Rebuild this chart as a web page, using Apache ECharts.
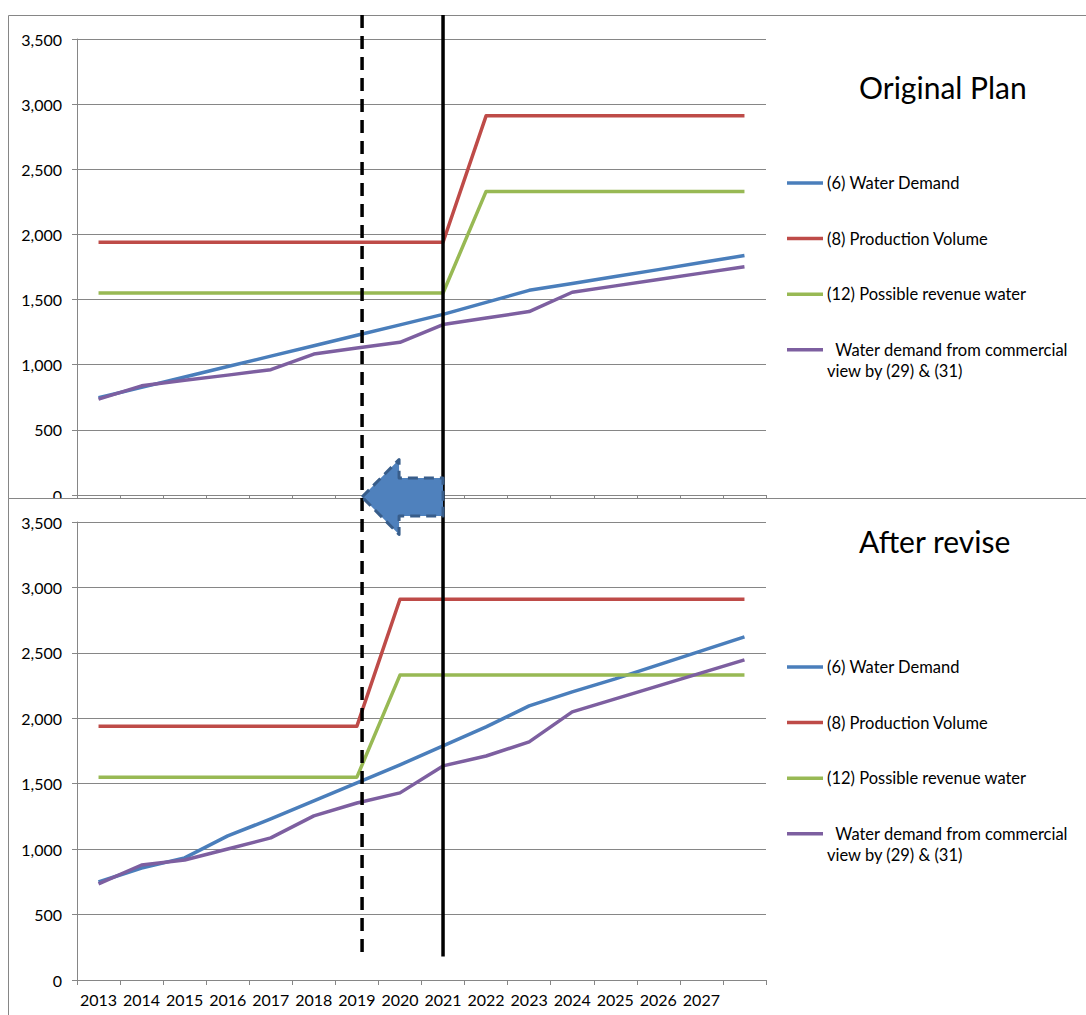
<!DOCTYPE html>
<html>
<head>
<meta charset="utf-8">
<script src="https://cdn.jsdelivr.net/npm/echarts@6/dist/echarts.min.js"></script>
<style>
  html, body { margin: 0; padding: 0; background: #ffffff; }
  #chart { width: 1086px; height: 1015px; }
</style>
</head>
<body>
<div id="chart"></div>
<script>
// Years on the category axis (the last year carries no printed label)
const years = ['2013', '2014', '2015', '2016', '2017', '2018', '2019', '2020',
               '2021', '2022', '2023', '2024', '2025', '2026', '2027', '2028'];
const yTicks = [0, 500, 1000, 1500, 2000, 2500, 3000, 3500];

const seriesNames = [
  '(6) Water Demand',
  '(8) Production Volume',
  '(12) Possible revenue water',
  '  Water demand from commercial\nview by (29) & (31)'
];
const panelTitles = ['Original Plan', 'After revise'];

// Original plan
const demandOrig     = [746, 826, 906, 986, 1066, 1146, 1226, 1306, 1386, 1478, 1571, 1624, 1677, 1730, 1784, 1838];
const productionOrig = [1940, 1940, 1940, 1940, 1940, 1940, 1940, 1940, 1940, 2910, 2910, 2910, 2910, 2910, 2910, 2910];
const revenueOrig    = [1550, 1550, 1550, 1550, 1550, 1550, 1550, 1550, 1550, 2330, 2330, 2330, 2330, 2330, 2330, 2330];
const commercialOrig = [736, 838, 880, 920, 962, 1082, 1128, 1172, 1308, 1358, 1408, 1556, 1605, 1654, 1703, 1752];

// After revision
const demandRev      = [749, 856, 933, 1101, 1231, 1368, 1506, 1644, 1789, 1934, 2095, 2202, 2301, 2408, 2515, 2622];
const productionRev  = [1940, 1940, 1940, 1940, 1940, 1940, 1940, 2910, 2910, 2910, 2910, 2910, 2910, 2910, 2910, 2910];
const revenueRev     = [1550, 1550, 1550, 1550, 1550, 1550, 1550, 2330, 2330, 2330, 2330, 2330, 2330, 2330, 2330, 2330];
const commercialRev  = [734, 879, 917, 1001, 1086, 1254, 1353, 1430, 1636, 1712, 1820, 2049, 2148, 2248, 2347, 2446];

// Milestones, as positions on the year axis (category index)
const revisedStartIndex = 6.12;   // dashed line, shortly after 2019
const originalStartIndex = 8;     // solid line, 2021
const markerBottomValue = 180;    // lower end of the milestone lines on the value axis

const colors = ['#4a7ebb', '#be4b48', '#98b954', '#7d5fa0'];
const FONT = 'Lato, "Open Sans", sans-serif';
const AXIS_GREY = '#868686';

const chart = echarts.init(document.getElementById('chart'), null, { renderer: 'svg' });

function makeXAxis(gridIndex, showLabels, z) {
  return {
    type: 'category', gridIndex: gridIndex, data: years, boundaryGap: true, z: z,
    axisLine: { show: true, lineStyle: { color: AXIS_GREY, width: 1 } },
    axisTick: { show: true, interval: 0, length: 5, lineStyle: { color: AXIS_GREY } },
    axisLabel: {
      show: showLabels, color: '#000', fontSize: 16, fontFamily: FONT, margin: 11,
      interval: function (idx) { return idx < years.length - 1; }
    },
    splitLine: { show: false }
  };
}
function makeYAxis(gridIndex, z) {
  return {
    type: 'value', gridIndex: gridIndex, min: yTicks[0], max: yTicks[yTicks.length - 1],
    interval: yTicks[1] - yTicks[0], z: z,
    axisLine: { show: true, lineStyle: { color: AXIS_GREY, width: 1 } },
    axisTick: { show: true, length: 5, lineStyle: { color: AXIS_GREY } },
    axisLabel: {
      color: '#000', fontSize: 16, fontFamily: FONT, margin: 15,
      formatter: function (v) { return v.toLocaleString('en-US'); }
    },
    splitLine: { show: true, lineStyle: { color: AXIS_GREY, width: 1 } }
  };
}
function makeSeries(gridIndex, values, z) {
  return values.map(function (data, i) {
    return {
      name: seriesNames[i], type: 'line', xAxisIndex: gridIndex, yAxisIndex: gridIndex,
      data: data, showSymbol: false, symbol: 'none', z: z, animation: false,
      lineStyle: { color: colors[i], width: 3.5, join: 'round' },
      itemStyle: { color: colors[i] }
    };
  });
}

// Key beside each panel: a short line sample followed by the series name
function makeKey(firstCenterY, z) {
  const step = 55.6, lineH = 21.5, out = [];
  seriesNames.forEach(function (name, i) {
    const cy = firstCenterY + i * step;
    out.push({ type: 'line', z: z, silent: true,
      shape: { x1: 787, y1: cy, x2: 823, y2: cy },
      style: { stroke: colors[i], lineWidth: 3.5 } });
    out.push({ type: 'text', z: z, silent: true, x: 827, y: cy - lineH / 2,
      style: { text: name, fill: '#000', font: '16.5px ' + FONT,
               lineHeight: lineH, align: 'left', verticalAlign: 'top' } });
  });
  return out;
}

chart.setOption({
  animation: false,
  color: colors,
  grid: [
    { left: 77, top: 39, width: 689, height: 456 },
    { left: 77, top: 522, width: 689, height: 458 }
  ],
  xAxis: [makeXAxis(0, false, 1), makeXAxis(1, true, 4)],
  yAxis: [makeYAxis(0, 1), makeYAxis(1, 4)],
  series: makeSeries(0, [demandOrig, productionOrig, revenueOrig, commercialOrig], 2)
    .concat(makeSeries(1, [demandRev, productionRev, revenueRev, commercialRev], 5))
});

// Pixel position of a (possibly fractional) category index on the lower year axis
function xAt(index) {
  const i0 = Math.floor(index);
  const p0 = chart.convertToPixel({ xAxisIndex: 1 }, i0);
  const p1 = chart.convertToPixel({ xAxisIndex: 1 }, i0 + 1);
  return p0 + (index - i0) * (p1 - p0);
}

const xDashed = xAt(revisedStartIndex);
const xSolid = xAt(originalStartIndex);
const yLineBottom = chart.convertToPixel({ yAxisIndex: 1 }, markerBottomValue);
const yJoin = chart.convertToPixel({ yAxisIndex: 0 }, 0) + 2;   // arrow sits on the seam of both panels
const headLen = 37, headHalf = 37.5, shaftHalf = 19;

chart.setOption({
  graphic: [
    // outer frame of the upper panel
    { type: 'rect', z: -1, silent: true,
      shape: { x: 8.5, y: 15.5, width: 1200, height: 1200 },
      style: { fill: '#fff', stroke: AXIS_GREY, lineWidth: 1 } },
    // frame of the lower panel, laid over the upper one
    { type: 'rect', z: 3, silent: true,
      shape: { x: 8.5, y: 498.5, width: 1200, height: 700 },
      style: { fill: '#fff', stroke: AXIS_GREY, lineWidth: 1 } },
    // panel titles
    { type: 'text', z: 6, x: 859, y: 87,
      style: { text: panelTitles[0], fill: '#000', font: '30px ' + FONT, align: 'left', verticalAlign: 'middle' } },
    { type: 'text', z: 6, x: 859, y: 541,
      style: { text: panelTitles[1], fill: '#000', font: '30px ' + FONT, align: 'left', verticalAlign: 'middle' } },
    // milestone lines
    { type: 'line', z: 10, silent: true,
      shape: { x1: xDashed, y1: 15, x2: xDashed, y2: yLineBottom },
      style: { stroke: '#000', lineWidth: 3.5, lineDash: [13, 8] } },
    { type: 'line', z: 10, silent: true,
      shape: { x1: xSolid, y1: 15, x2: xSolid, y2: yLineBottom },
      style: { stroke: '#000', lineWidth: 3.5 } },
    // block arrow: the start moved earlier
    { type: 'polygon', z: 11, silent: true,
      shape: { points: [
        [xDashed, yJoin],
        [xDashed + headLen, yJoin - headHalf],
        [xDashed + headLen, yJoin - shaftHalf],
        [xSolid, yJoin - shaftHalf],
        [xSolid, yJoin + shaftHalf],
        [xDashed + headLen, yJoin + shaftHalf],
        [xDashed + headLen, yJoin + headHalf]
      ] },
      style: { fill: '#4f81bd', stroke: '#385d8a', lineWidth: 3, lineDash: [10, 6], lineJoin: 'round' } }
  ].concat(makeKey(183, 2), makeKey(667, 6))
});
</script>
</body>
</html>
